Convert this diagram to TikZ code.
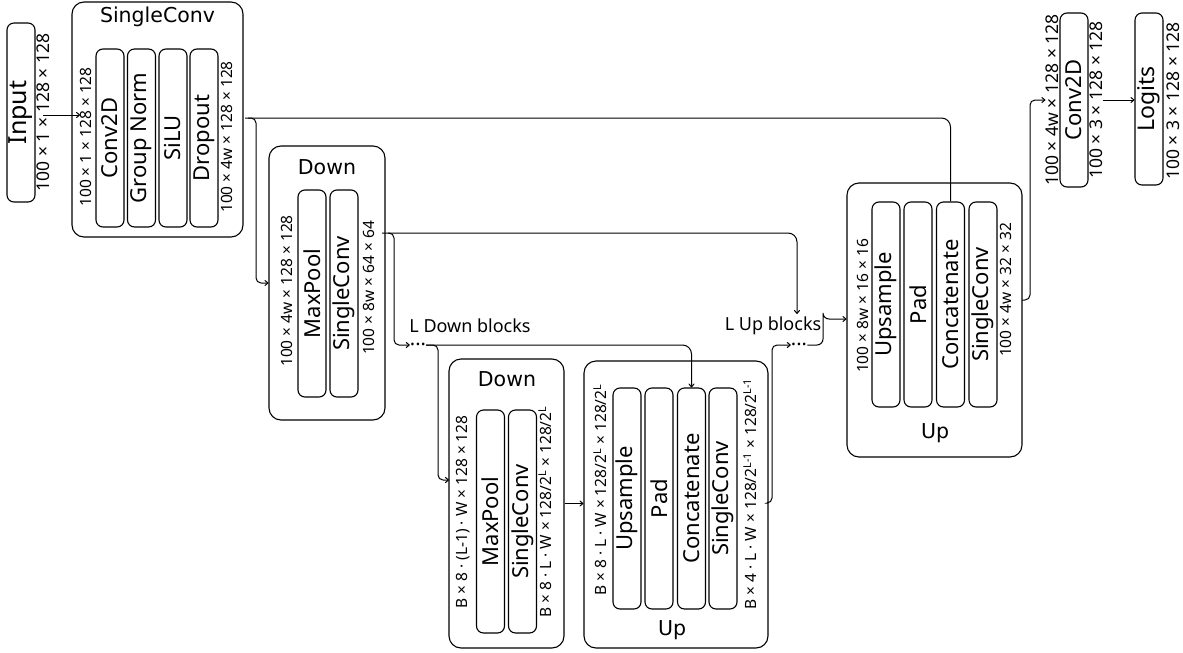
\documentclass[tikz,border=0pt]{standalone}
\usepackage{fontspec}
\setmainfont{Noto Sans}
\newfontfamily\titlefont{DejaVu Sans}
\usetikzlibrary{arrows.meta}
\newcommand{\rt}[1]{\rotatebox{90}{#1}}
\newcommand{\mydots}{\smash{\raisebox{-6.5pt}{···}}}
\begin{document}
\begin{tikzpicture}[x=1pt,y=-1pt,
  blk/.style={draw, rounded corners=12pt, line width=1.1pt, inner sep=0pt},
  inbox/.style={draw, rounded corners=7pt, line width=1.1pt, inner sep=0pt, minimum width=28pt, font=\fontsize{22}{26}\selectfont},
  lbl/.style={inner sep=0pt, font=\fontsize{15.5}{18}\selectfont},
  biglbl/.style={inner sep=0pt, font=\fontsize{17.5}{20}\selectfont},
  ttl/.style={inner sep=0pt, font=\titlefont\fontsize{20.5}{24}\selectfont},
  txt/.style={inner sep=0pt, font=\fontsize{18}{21}\selectfont},
  dotsty/.style={inner sep=0pt, font=\fontsize{20}{22}\selectfont},
  conn/.style={line width=1pt, rounded corners=5pt},
  arr/.style={conn, -{To[length=4pt,width=6pt]}}]
\useasboundingbox (0,0) rectangle (1183,653);

% Input
\node[inbox, minimum height=179pt, font=\fontsize{25}{29}\selectfont] (input) at (21,112.5) {\rt{Input}};
\node[biglbl] (inlbl) at (43.5,112.5) {\rt{100 × 1 × 128 × 128}};

% SingleConv block
\node[blk, minimum width=171pt, minimum height=235pt] (sc) at (157.5,119.5) {};
\node[ttl] (sct) at (157.5,17) {SingleConv};
\node[inbox, minimum height=178pt] (sc1) at (110,138) {\rt{Conv2D}};
\node[inbox, minimum height=178pt] (sc2) at (141.5,138) {\rt{Group Norm}};
\node[inbox, minimum height=178pt] (sc3) at (173,138) {\rt{SiLU}};
\node[inbox, minimum height=178pt] (sc4) at (204,138) {\rt{Dropout}};
\node[lbl] (sclL) at (86,137) {\rt{100 × 1 × 128 × 128}};
\node[lbl] (sclR) at (227,137) {\rt{100 × 4w × 128 × 128}};

% Down block
\node[blk, minimum width=116pt, minimum height=274pt] (dn) at (327,283) {};
\node[ttl] (dnt) at (327,167) {Down};
\node[inbox, minimum height=207pt] (dn1) at (312,293.5) {\rt{MaxPool}};
\node[inbox, minimum height=207pt] (dn2) at (344,293.5) {\rt{SingleConv}};
\node[lbl] (dL) at (287,291) {\rt{100 × 4w × 128 × 128}};
\node[lbl] (dR) at (369,288) {\rt{100 × 8w × 64 × 64}};

% Bottom Down block
\node[blk, minimum width=115pt, minimum height=289pt] (bd) at (506.5,503.5) {};
\node[ttl] (bdt) at (507,379) {Down};
\node[inbox, minimum height=223pt] (bd1) at (490.5,521.5) {\rt{MaxPool}};
\node[inbox, minimum height=223pt] (bd2) at (522.5,521.5) {\rt{SingleConv}};
\node[lbl] (bdL) at (463,512) {\rt{B × 8 · (L-1) · W × 128 × 128}};
\node[lbl] (bdR) at (545,512) {\rt{B × 8 · L · W × 128/2\textsuperscript{L} × 128/2\textsuperscript{L}}};

% Bottom Up block
\node[blk, minimum width=184pt, minimum height=287pt] (bu) at (676,504.5) {};
\node[ttl] (but) at (672,630) {Up};
\node[inbox, minimum height=221pt] (bu1) at (627,498.5) {\rt{Upsample}};
\node[inbox, minimum height=221pt] (bu2) at (659,498.5) {\rt{Pad}};
\node[inbox, minimum height=221pt] (bcat) at (691.5,498.5) {\rt{Concatenate}};
\node[inbox, minimum height=221pt] (bu4) at (723,498.5) {\rt{SingleConv}};
\node[lbl] (buL) at (600,490) {\rt{B × 8 · L · W × 128/2\textsuperscript{L} × 128/2\textsuperscript{L}}};
\node[lbl] (buR) at (750,494) {\rt{B × 4 · L · W × 128/2\textsuperscript{L-1} × 128/2\textsuperscript{L-1}}};

% Top Up block
\node[blk, minimum width=175pt, minimum height=274pt] (tu) at (934.5,320) {};
\node[ttl] (tut) at (935,433) {Up};
\node[inbox, minimum height=205pt] (tu1) at (886,304.5) {\rt{Upsample}};
\node[inbox, minimum height=205pt] (tu2) at (918,304.5) {\rt{Pad}};
\node[inbox, minimum height=205pt] (tcat) at (950.5,304.5) {\rt{Concatenate}};
\node[inbox, minimum height=205pt] (tu4) at (983,304.5) {\rt{SingleConv}};
\node[lbl] (tuL) at (863,306) {\rt{100 × 8w × 16 × 16}};
\node[lbl] (tuR) at (1006,290) {\rt{100 × 4w × 32 × 32}};

% Conv2D and Logits
\node[inbox, minimum height=174pt] (cv) at (1074,100) {\rt{Conv2D}};
\node[biglbl] (cvL) at (1052,100) {\rt{100 × 4w × 128 × 128}};
\node[biglbl] (cvR) at (1096,100) {\rt{100 × 3 × 128 × 128}};
\node[inbox, minimum height=172pt, font=\fontsize{23}{27}\selectfont] (lg) at (1149,99) {\rt{Logits}};
\node[biglbl] (lgL) at (1173,101) {\rt{100 × 3 × 128 × 128}};

% texts
\node[txt] (ldb) at (470,326) {L Down blocks};
\node[txt] (lub) at (773,326) {L Up blocks};
\node[dotsty] (ddots) at (418,345) {\mydots};
\node[dotsty] (udots) at (799,345) {\mydots};

% coordinates
\coordinate (a0) at (43,115);
\coordinate (o1) at (245,118);
\coordinate (j1) at (248,118);
\coordinate (b1) at (256,0);
\coordinate (o2) at (382,233);
\coordinate (j2) at (388,233);
\coordinate (b2) at (394,0);
\coordinate (t2) at (797,314);
\coordinate (b3) at (438,0);
\coordinate (t3) at (449,480);
\coordinate (o4) at (768,503);
\coordinate (b4) at (772,0);
\coordinate (b5) at (823,332);
\coordinate (o6) at (1022,300);
\coordinate (b6) at (1030,0);

% connectors
\draw[arr] (a0) -- (a0 -| sclL.west);
\draw[conn, rounded corners=9pt] (o1) -| (tcat.north);
\draw[arr] (j1) -| (b1 |- dn.west) -- (dn.west);
\draw[arr, rounded corners=9pt] (o2) -| (t2);
\draw[arr] (j2) -| (b2 |- ddots.west) -- (ddots.west);
\draw[arr, rounded corners=9pt] (ddots.east) -| (bcat.north);
\draw[arr] (ddots.east) -| (b3 |- t3) -- (t3);
\draw[arr] (bd.east) -- (bd.east -| bu.west);
\draw[arr] (o4) -| (b4 |- udots.west) -- (udots.west);
\draw[arr, rounded corners=6pt] (udots.east) -| (b5) |- (b5 |- 0,319) -- (tu.west |- 0,319);
\draw[arr] (o6) -| (b6 |- cv.center) -- (cv.center -| cvL.west);
\draw[arr] (cvR.east) -- (cvR.east -| lg.west);
\end{tikzpicture}
\end{document}
